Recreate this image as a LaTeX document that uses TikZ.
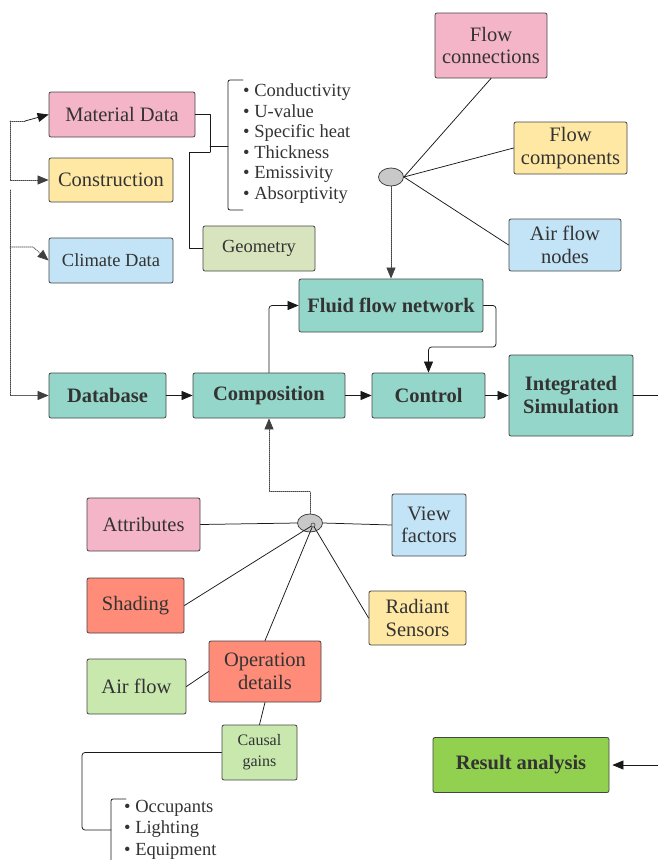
\documentclass[tikz,border=0pt]{standalone}
\usepackage{fontspec}
\setmainfont{Liberation Serif}
\usetikzlibrary{arrows.meta,shapes.geometric}
\definecolor{fbb5c8}{rgb}{0.957,0.710,0.784}
\definecolor{ffe8a4}{rgb}{1.,0.910,0.643}
\definecolor{c3e4f6}{rgb}{0.765,0.894,0.965}
\definecolor{d7e4bd}{rgb}{0.843,0.894,0.741}
\definecolor{94d7ca}{rgb}{0.580,0.843,0.792}
\definecolor{ff8b79}{rgb}{1.,0.545,0.475}
\definecolor{c8e8ae}{rgb}{0.784,0.910,0.682}
\definecolor{92d050}{rgb}{0.573,0.816,0.314}
\definecolor{c8c8c8}{rgb}{0.784,0.784,0.784}
\definecolor{333333}{rgb}{0.2,0.2,0.2}
\definecolor{444444}{rgb}{0.267,0.267,0.267}

\begin{document}
\begin{tikzpicture}[line cap=round,line join=round,>={Triangle[length=11pt,width=9pt]},x=1pt,y=-1pt,
  box/.style={draw=444444,line width=0.8pt,rounded corners=2pt,text=333333,inner sep=0pt,align=center,font=\fontsize{20.5}{22.5}\selectfont},
  main/.style={box,fill=94d7ca,font=\fontsize{20.5}{23}\selectfont\bfseries},
  smaller/.style={font=\fontsize{18.5}{21}\selectfont},
  hub/.style={ellipse,draw=444444,line width=0.8pt,fill=c8c8c8,minimum width=25pt,minimum height=18pt,inner sep=0pt},
  link/.style={draw=black!90,line width=0.75pt},
  dots/.style={draw=black!75,line width=0.7pt,dash pattern=on 1pt off 1pt}]
\clip (0,0) rectangle (658,860);
% data boxes
\node[box,fill=fbb5c8,minimum width=146pt,minimum height=45pt] (mat) at (122,114.5) {Material Data};
\node[box,fill=ffe8a4,minimum width=124pt,minimum height=44pt] (cons) at (111,180) {Construction};
\node[box,smaller,fill=c3e4f6,minimum width=124pt,minimum height=45pt] (clim) at (111,260.5) {Climate Data};
\node[box,smaller,fill=d7e4bd,minimum width=112pt,minimum height=45pt] (geom) at (259,248.5) {Geometry};
\node[anchor=west,align=left,inner sep=0pt,text=333333,font=\fontsize{18.5}{20.6}\selectfont] (props) at (243,143.5)
  {\textbullet\ Conductivity\\\textbullet\ U-value\\\textbullet\ Specific heat\\\textbullet\ Thickness\\\textbullet\ Emissivity\\\textbullet\ Absorptivity};
% main chain
\node[main,minimum width=117pt,minimum height=45pt] (db) at (107.5,395.5) {Database};
\node[main,minimum width=152pt,minimum height=45pt] (comp) at (269,395.5) {Composition};
\node[main,minimum width=184pt,minimum height=53pt] (fluid) at (391,305.5) {Fluid flow network};
\node[main,minimum width=113pt,minimum height=45pt] (ctrl) at (428.5,395.5) {Control};
\node[main,minimum width=124pt,minimum height=81pt] (integ) at (571,395.5) {Integrated\\Simulation};
\node[main,fill=92d050,minimum width=176pt,minimum height=55pt] (result) at (521,765) {Result analysis};
% flow network inputs
\node[hub] (ell1) at (391,177) {};
\node[box,fill=fbb5c8,minimum width=112pt,minimum height=65pt] (flowc) at (491,45.5) {Flow\\connections};
\node[box,fill=ffe8a4,minimum width=113pt,minimum height=52pt] (flowcomp) at (570.5,148) {Flow\\components};
\node[box,fill=c3e4f6,minimum width=112pt,minimum height=52pt] (airnodes) at (565,245) {Air flow\\nodes};
% composition inputs
\node[hub] (ell2) at (310,523) {};
\node[circle,draw=444444,line width=0.6pt,inner sep=0pt,minimum size=4pt] (hubdot) at (313,525) {};
\node[box,fill=fbb5c8,minimum width=113pt,minimum height=53pt] (attr) at (143.5,524.5) {Attributes};
\node[box,fill=c3e4f6,minimum width=74pt,minimum height=62pt] (view) at (429,525) {View\\factors};
\node[box,fill=ff8b79,minimum width=97pt,minimum height=55pt] (shad) at (135.5,605.5) {Shading};
\node[box,fill=ffe8a4,minimum width=97pt,minimum height=54pt] (rad) at (417.5,618) {Radiant\\Sensors};
\node[box,fill=c8e8ae,minimum width=99pt,minimum height=55pt] (airflow) at (136.5,686.5) {Air flow};
\node[box,fill=ff8b79,minimum width=112pt,minimum height=61pt] (oper) at (265,671.5) {Operation\\details};
\node[box,fill=c8e8ae,minimum width=75pt,minimum height=55pt,font=\fontsize{16}{21}\selectfont] (causal) at (259.5,752.5) {Causal\\gains};
\node[anchor=west,align=left,inner sep=0pt,text=333333,font=\fontsize{18.5}{21.5}\selectfont] (gains) at (124,829.5)
  {\textbullet\ Occupants\\\textbullet\ Lighting\\\textbullet\ Equipment};
% brackets
\coordinate (brk1) at (228,146);
\coordinate (brk2) at (111,830);
\draw[link,rounded corners=2pt] (243,80) -- (228,80) -- (228,210) -- (243,210);
\draw[link,rounded corners=2pt] (126,799) -- (111,799) -- (111,880);
% material data links
\coordinate (jn1) at (210,152);
\draw[link] (mat.east) -| (jn1);
\draw[link] (210,146) -- (brk1);
\draw[link] (jn1) -- (189,152) |- (geom.west);
% database bus
\coordinate (bus1) at (10,121);
\coordinate (bus2) at (10,190);
\draw[dots] (bus1) -- (25,121);
\draw[link,->] (25,121) -- (mat.west);
\draw[dots,->] (bus1) |- (cons.west);
\draw[dots,->] (bus2) |- (db.west);
\draw[dots,->] (10,247) -- (33,247) -- (clim.west);
% chain
\draw[link,->] (db.east) -- (comp.west);
\draw[link,->] (comp.east) -- (ctrl.west);
\draw[link,->] (ctrl.east) -- (integ.west);
\draw[link,->,rounded corners=3pt] (comp.north) |- (fluid.west);
\draw[link,->,rounded corners=3pt] (fluid.east) -| (496,347) -| (ctrl.north);
\draw[link,->] (integ.east) -- (700,395.5) |- ([xshift=3pt]result.east);
% flow hub
\draw[link] (ell1.east) -- (flowc.south);
\draw[link] (ell1.east) -- (flowcomp.west);
\draw[link] (ell1.east) -- (airnodes.west);
\draw[dots,->] (ell1.south) -- (fluid.north);
% composition hub
\draw[link] (attr.east) -- (ell2.west);
\draw[link] (ell2.east) -- (view.west);
\draw[link] (shad.east) -- (hubdot);
\draw[link] (oper.north) -- (hubdot);
\draw[link] (rad.west) -- (hubdot);
\draw[dots,->] (ell2.north) -- ++(0,-22) -| (comp.south);
\draw[link] (airflow.east) -- (oper.west);
\draw[link] (oper.south) -- (causal.north);
\draw[link,rounded corners=3pt] (causal.west) -| (82,830) -- (brk2);
\end{tikzpicture}
\end{document}
